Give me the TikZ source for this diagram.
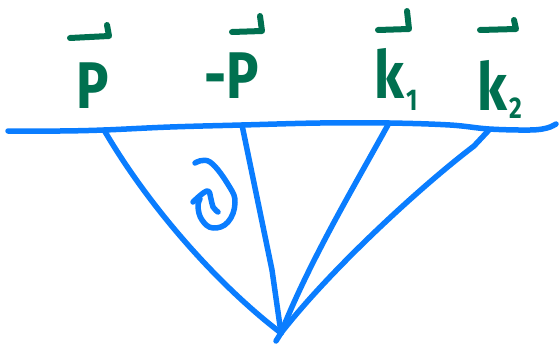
\documentclass[tikz,border=0pt]{standalone}
\usepackage{fontspec}
\setmainfont{Fira Sans}
\newfontfamily\handfont[FakeStretch=0.82]{Fira Sans}
\definecolor{pen}{RGB}{10,125,255}
\definecolor{ink}{RGB}{0,112,80}
\begin{document}
\begin{tikzpicture}[x=1pt,y=-1pt,
  stroke/.style={draw=pen,line width=5.5pt,line cap=round,line join=round},
  harp/.style={draw=ink,line width=6pt,line cap=round,line join=round},
  lbl/.style={text=ink,inner sep=0pt,font=\handfont\fontsize{66}{66}\selectfont\bfseries},
  sub/.style={text=ink,inner sep=0pt,font=\handfont\fontsize{30}{30}\selectfont\bfseries}]
\useasboundingbox (0,0) rectangle (559,348);
% attachment points
\coordinate (a1) at (104,130);
\coordinate (a2) at (242,125);
\coordinate (a3) at (389,123);
\coordinate (a4) at (489,130);
\coordinate (v) at (281,333);
\coordinate (t) at (276,341);
% horizontal line
\draw[stroke] plot[smooth,tension=0.6] coordinates {(8,131) (60,131) (104,130) (170,127) (242,125) (320,123) (389,123) (450,125) (489,129) (530,130) (547,128) (556,124)};
% lines to vertex
\draw[stroke] (a1) .. controls (152,212) and (222,288) .. (v);
\draw[stroke] (a2) -- (272,270) -- (v);
\draw[stroke] (a3) .. controls (355,185) and (310,260) .. (v);
\draw[stroke] (a4) -- (474,146) .. controls (420,187) and (330,270) .. (v);
\draw[stroke] (v) -- (t);
% curly symbol
\draw[stroke] plot[smooth,tension=0.7] coordinates {(195,163) (210,162) (229,186) (235,203) (228,222) (213,228) (202,220) (198,207) (200,199)};
\draw[stroke] plot[smooth,tension=0.7] coordinates {(193,202) (207,191) (211,199) (213,207) (218,212)};
% labels
\node[lbl,anchor=base] (p) at (93,108) {P};
\node[lbl,anchor=base east] (mp) at (259,98) {-P};
\node[lbl,anchor=base west] (k1) at (374,98) {k};
\node[sub,anchor=base west] (s1) at (406,110) {1};
\node[lbl,anchor=base west] (k2) at (477,110) {k};
\node[sub,anchor=base west] (s2) at (509,118) {2};
% harpoons
\draw[harp] (70,38) -- (109,36) -- (107,25);
\draw[harp] (232,32) -- (262,31) -- (260,16);
\draw[harp] (378,30) -- (409,29) -- (407,11);
\draw[harp] (480,30) -- (516,29) -- (514,20);
\end{tikzpicture}
\end{document}
